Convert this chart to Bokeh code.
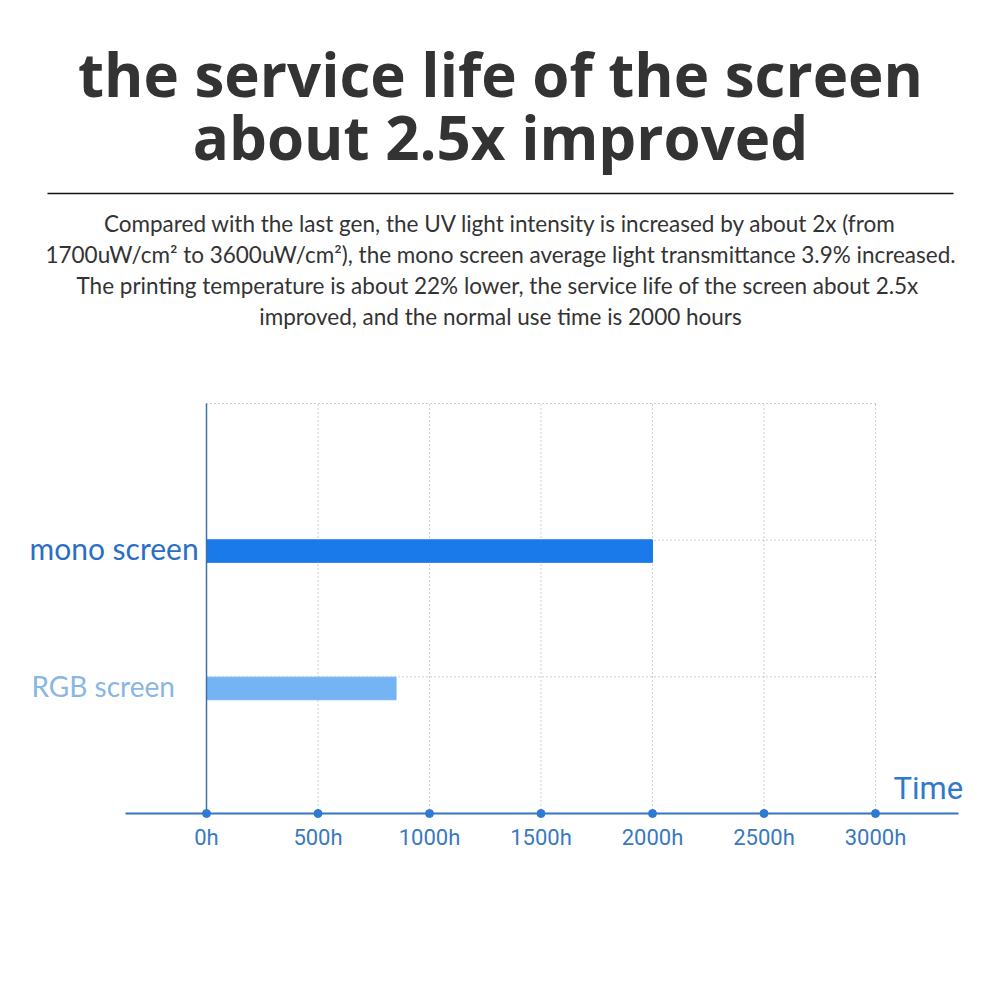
from bokeh.plotting import figure
from bokeh.models import Range1d, FixedTicker, ColumnDataSource
from bokeh.core.properties import value
from bokeh.embed import file_html
from bokeh.resources import INLINE

# ---- data ----
categories = ["mono screen", "RGB screen"]
hours = [2000, 850]
tick_values = [0, 500, 1000, 1500, 2000, 2500, 3000]
tick_labels = ["0h", "500h", "1000h", "1500h", "2000h", "2500h", "3000h"]
title_lines = ["the service life of the screen", "about 2.5x improved"]
body_lines = [
    "Compared with the last gen, the UV light intensity is increased by about 2x (from",
    "1700uW/cm\u00b2 to 3600uW/cm\u00b2), the mono screen average light transmittance 3.9% increased.",
    "The printing temperature is about 22% lower,  the service life of the screen about 2.5x",
    "improved, and the normal use time is 2000 hours",
]
axis_title = "Time"

# ---- layout helpers (canvas pixel -> data) ----
PX0, PXH = 206.0, 0.223      # x pixel of 0h, pixels per hour
PY0, PYU = 813.0, 136.67     # y pixel of axis, pixels per y unit
W, H, FRAME_BOTTOM = 984, 984, 818
def dx(px):
    return (px - PX0) / PXH
def dy(py):
    return (PY0 - py) / PYU

p = figure(width=W, height=H, output_backend="svg", toolbar_location=None,
           x_range=Range1d(dx(0), dx(W)), y_range=Range1d(dy(FRAME_BOTTOM), dy(0)),
           y_axis_location=None, min_border_left=0, min_border_right=0,
           min_border_top=0, min_border_bottom=H - FRAME_BOTTOM)
p.outline_line_color = None
p.xgrid.visible = False
p.ygrid.visible = False
p.background_fill_color = "white"
p.border_fill_color = "white"

ax = p.xaxis[0]
ax.ticker = FixedTicker(ticks=tick_values)
ax.major_label_overrides = {v: l for v, l in zip(tick_values, tick_labels)}
ax.axis_line_color = None
ax.major_tick_line_color = None
ax.minor_tick_line_color = None
ax.major_label_standoff = 0
ax.major_label_text_font = "Roboto"
ax.major_label_text_font_size = "22px"
ax.major_label_text_color = "#3a78c0"

# grid (dotted)
grid_color = "#a0a0a0"
top = 3
p.segment(x0=tick_values[1:], y0=[0] * 6, x1=tick_values[1:], y1=[top] * 6,
          line_color=grid_color, line_width=1, line_dash="1 3")
p.segment(x0=[0, 0, 0], y0=[1, 2, 3], x1=[3000] * 3, y1=[1, 2, 3],
          line_color=grid_color, line_width=1, line_dash="1 3")

# bars
row_y = [1.92, 0.915]
src = ColumnDataSource(dict(cat=categories, hours=hours, y=row_y,
                            color=["#1a7aea", "#74b4f5"]))
p.hbar(y="y", left=0, right="hours", height=0.165, color="color", source=src)

# axis lines
p.segment(x0=[0], y0=[0], x1=[0], y1=[top], line_color="#3d6fa8", line_width=1.5)
p.segment(x0=[dx(125)], y0=[0], x1=[dx(958)], y1=[0], line_color="#3576c2", line_width=1.8)
p.scatter(x=tick_values, y=[0] * len(tick_values), size=8, color="#2f7bd2")

# category labels
lab = ColumnDataSource(dict(x=[dx(29), dx(31)], y=[1.945, 0.935], text=categories,
                            color=["#2a6fc4", "#89b6e3"], size=["30px", "28px"]))
p.text(x="x", y="y", text="text", text_color="color", text_font=value("Lato"),
       text_font_size="size", text_align="left", text_baseline="middle", source=lab)

# axis title
p.text(x=[dx(893)], y=[dy(788)], text=[axis_title], text_color="#2f79cc",
       text_font=value("Roboto"), text_font_size="31px",
       text_align="left", text_baseline="middle")

# headline (empirical baseline correction for svg text)
p.text(x=[dx(500)] * 2, y=[dy(73), dy(136)], text=title_lines,
       text_color="#333333", text_font=value("Open Sans"), text_font_style="bold",
       text_font_size="60px", text_align="center", text_baseline="alphabetic")
p.segment(x0=[dx(47)], y0=[dy(193)], x1=[dx(953)], y1=[dy(193)],
          line_color="#111111", line_width=1.5)

# body
p.text(x=[dx(500)] * 4, y=[dy(223), dy(254), dy(285), dy(316)], text=body_lines,
       text_color="#333333", text_font=value("Lato"), text_font_size="22.5px",
       text_align="center", text_baseline="alphabetic")

open("out.html", "w").write(file_html(p, INLINE))
